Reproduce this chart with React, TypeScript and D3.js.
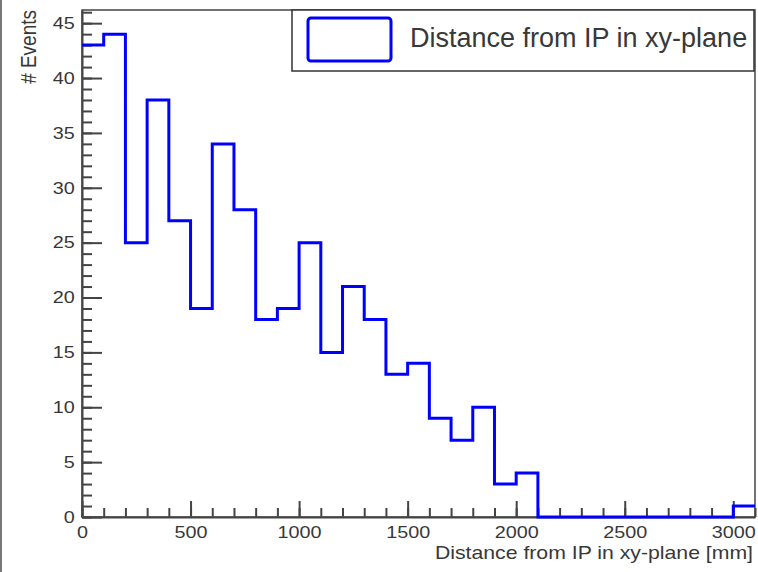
import { useRef, useEffect } from 'react'
import * as d3 from 'd3';

// bin edges (mm) and counts per bin
const binLow = [0, 100, 200, 300, 400, 500, 600, 700, 800, 900, 1000, 1100, 1200, 1300, 1400, 1500, 1600, 1700, 1800, 1900, 2000, 2100, 2200, 2300, 2400, 2500, 2600, 2700, 2800, 2900, 3000];
const counts = [43, 44, 25, 38, 27, 19, 34, 28, 18, 19, 25, 15, 21, 18, 13, 14, 9, 7, 10, 3, 4, 0, 0, 0, 0, 0, 0, 0, 0, 0, 1];
const binWidth = 100;

const xMajorTicks = [0, 500, 1000, 1500, 2000, 2500, 3000];
const yMajorTicks = [0, 5, 10, 15, 20, 25, 30, 35, 40, 45];

const legendLabel = "Distance from IP in xy-plane";
const xTitle = "Distance from IP in xy-plane [mm]";
const yTitle = "# Events";

function App() {
    const d3Container = useRef(null);

    const width = 758;
    const height = 572;

    useEffect(() => {
        const marginTop = 10;
        const marginRight = 3;
        const marginBottom = 55;
        const marginLeft = 82;

        const svg = d3.select(d3Container.current);
        svg.selectAll("*").remove();

        const font = "'Liberation Sans', Arial, Helvetica, sans-serif";
        const axisColor = "#444";
        const textColor = "#383838";
        const stretch = 1.2; // the picture's text looks a bit wide

        svg.append("rect")
           .attr("width", width)
           .attr("height", height)
           .attr("fill", "white");

        // left border of the image
        svg.append("line")
           .attr("x1", 1).attr("x2", 1)
           .attr("y1", 0).attr("y2", height)
           .attr("stroke", "#777")
           .attr("stroke-width", 2);

        const x = d3.scaleLinear()
                    .domain([0, 3100])
                    .range([marginLeft, width - marginRight]);

        const y = d3.scaleLinear()
                    .domain([0, 46.2])
                    .range([height - marginBottom, marginTop]);

        // frame
        svg.append("rect")
           .attr("x", x(0))
           .attr("y", y(46.2))
           .attr("width", x(3100) - x(0))
           .attr("height", y(0) - y(46.2))
           .attr("fill", "none")
           .attr("stroke", axisColor)
           .attr("stroke-width", 1.5);

        // minor ticks
        svg.append("g")
           .attr("transform", `translate(0,${y(0)})`)
           .call(d3.axisBottom(x).tickValues(d3.range(0, 3101, 100)).tickSizeInner(-9).tickSizeOuter(0).tickFormat(() => ""))
           .call((g) => g.select(".domain").remove())
           .call((g) => g.selectAll("line").attr("stroke", axisColor).attr("stroke-width", 2));

        svg.append("g")
           .attr("transform", `translate(${x(0)},0)`)
           .call(d3.axisLeft(y).tickValues(d3.range(0, 47, 1)).tickSizeInner(-10).tickSizeOuter(0).tickFormat(() => ""))
           .call((g) => g.select(".domain").remove())
           .call((g) => g.selectAll("line").attr("stroke", axisColor).attr("stroke-width", 2));

        // major ticks with labels
        svg.append("g")
           .attr("transform", `translate(0,${y(0)})`)
           .call(d3.axisBottom(x).tickValues(xMajorTicks).tickSizeInner(-16).tickSizeOuter(0).tickPadding(9).tickFormat(d3.format("d")))
           .call((g) => g.select(".domain").attr("stroke", axisColor).attr("stroke-width", 2))
           .call((g) => g.selectAll("line").attr("stroke", axisColor).attr("stroke-width", 2))
           .call((g) => g.selectAll("text")
                         .attr("fill", textColor)
                         .attr("font-family", font)
                         .attr("font-size", 16.5)
                         .attr("transform", `scale(${stretch},1)`));

        svg.append("g")
           .attr("transform", `translate(${x(0)},0)`)
           .call(d3.axisLeft(y).tickValues(yMajorTicks).tickSizeInner(-20).tickSizeOuter(0).tickPadding(6).tickFormat(d3.format("d")))
           .call((g) => g.select(".domain").attr("stroke", axisColor).attr("stroke-width", 2))
           .call((g) => g.selectAll("line").attr("stroke", axisColor).attr("stroke-width", 2))
           .call((g) => g.selectAll("text")
                         .attr("fill", textColor)
                         .attr("font-family", font)
                         .attr("font-size", 16.5)
                         .attr("transform", `scale(${stretch},1)`));

        // axis titles
        svg.append("text")
           .attr("transform", `translate(${width - 5},559) scale(1.18,1)`)
           .attr("text-anchor", "end")
           .attr("fill", textColor)
           .attr("font-family", font)
           .attr("font-size", 18)
           .text(xTitle);

        svg.append("text")
           .attr("transform", `translate(36,${marginTop}) rotate(-90) scale(1,${stretch})`)
           .attr("text-anchor", "end")
           .attr("fill", textColor)
           .attr("font-family", font)
           .attr("font-size", 19)
           .text(yTitle);

        // histogram outline
        const points = [];
        binLow.forEach((lo, i) => {
            points.push([lo, counts[i]]);
            points.push([lo + binWidth, counts[i]]);
        });

        const line = d3.line()
                       .x((d) => x(d[0]))
                       .y((d) => y(d[1]));

        svg.append("path")
           .datum(points)
           .attr("d", line)
           .attr("fill", "none")
           .attr("stroke", "#0000ff")
           .attr("stroke-width", 3)
           .attr("stroke-linejoin", "miter");

        // legend
        const legend = svg.append("g");
        legend.append("rect")
              .attr("x", 292)
              .attr("y", 10)
              .attr("width", 462)
              .attr("height", 61)
              .attr("fill", "white")
              .attr("stroke", "#333")
              .attr("stroke-width", 1.5);
        legend.append("rect")
              .attr("x", 308)
              .attr("y", 18)
              .attr("width", 83)
              .attr("height", 43)
              .attr("rx", 3)
              .attr("fill", "white")
              .attr("stroke", "#0000ff")
              .attr("stroke-width", 3);
        legend.append("text")
              .attr("x", 410)
              .attr("y", 47)
              .attr("fill", textColor)
              .attr("font-family", font)
              .attr("font-size", 27)
              .text(legendLabel);
    });

    return (
        <div style={{ position: "absolute", left: 0, top: 0 }}>
            <svg width={width} height={height} ref={d3Container} style={{ display: "block" }} />
        </div>
    )
}

export default App;
